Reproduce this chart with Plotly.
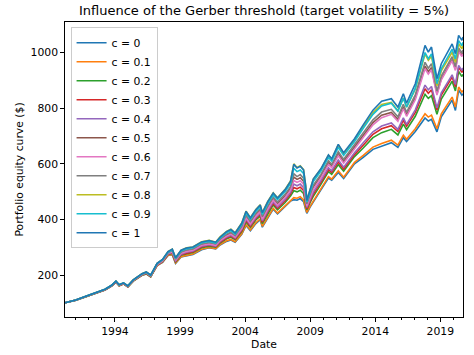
import plotly.graph_objects as go

months = ["1990-02", "1990-12", "1991-08", "1992-05", "1993-03", "1993-09", "1994-01", "1994-04", "1994-08", "1994-12",
          "1995-05", "1996-01", "1996-05", "1996-09", "1997-03", "1997-08", "1998-01", "1998-05", "1998-08", "1999-01",
          "1999-06", "1999-12", "2000-08", "2001-03", "2001-09", "2002-01", "2002-07", "2002-11", "2003-03", "2003-09",
          "2004-01", "2004-05", "2004-10", "2005-02", "2005-04", "2005-09", "2006-02", "2006-06", "2007-01", "2007-06",
          "2007-09", "2007-12", "2008-03", "2008-06", "2008-08", "2008-09", "2008-12", "2009-03", "2009-10", "2010-05",
          "2010-08", "2011-02", "2011-07", "2012-05", "2013-01", "2013-10", "2014-06", "2015-03", "2015-09", "2016-02",
          "2016-05", "2017-01", "2017-10", "2018-01", "2018-04", "2018-09", "2019-01", "2019-06", "2019-11", "2020-02",
          "2020-05", "2020-08", "2020-09"]
dates = [m + "-28" for m in months]

c_0 = [100,109,120,132,146,160,174,161,168,157,178,199,204,193,234,245,270,273,242,265,269,274,291,298,294,308,321,326,318,346,378,359,385,399,372,407,437,420,446,466,471,469,475,464,435,422,444,461,506,549,541,569,547,600,623,652,664,676,659,694,680,716,765,754,760,715,769,799,829,792,865,847,852]
c_01 = [100,109,120,132,146,160,174,161,168,157,178,199,204,193,234,246,271,274,243,266,271,276,293,299,295,310,323,328,320,348,381,362,388,402,375,410,440,423,449,470,478,476,482,470,440,425,447,466,510,554,545,575,552,605,630,660,673,685,667,703,688,726,780,768,775,726,780,810,840,804,876,858,864]
c_02 = [100,109,120,132,147,161,175,162,169,158,179,200,205,194,236,248,274,278,247,271,276,281,298,304,300,315,330,336,327,356,391,371,398,412,385,421,452,434,461,484,503,499,505,493,457,434,460,483,526,572,562,597,573,626,657,694,712,724,704,743,723,771,850,835,845,778,833,865,897,862,932,914,922]
c_03 = [100,109,121,133,147,161,175,162,169,158,180,201,206,195,236,249,275,280,249,273,279,284,301,307,302,318,333,339,330,360,396,375,403,418,390,427,457,440,467,491,515,510,516,504,465,438,465,491,533,579,569,606,581,633,667,706,726,737,716,756,735,785,870,854,866,793,847,880,912,877,947,929,937]
c_04 = [100,109,121,133,147,161,176,163,170,159,180,201,207,196,237,250,276,282,251,275,282,286,304,309,304,321,337,343,333,364,401,380,407,422,395,432,463,445,473,497,527,521,527,514,473,443,471,498,540,586,575,614,588,640,676,715,736,747,724,765,742,794,883,866,878,801,855,888,920,885,954,936,945]
c_05 = [100,110,121,133,148,162,176,163,170,159,181,203,208,197,239,252,279,286,255,280,287,292,309,314,309,326,343,350,339,372,411,389,417,433,405,443,474,456,485,512,552,544,550,537,490,452,483,516,556,604,592,636,609,660,702,748,775,785,760,804,777,837,951,931,946,852,906,941,975,940,1008,990,1000]
c_06 = [100,110,121,133,148,162,176,163,170,159,181,202,208,197,238,251,278,284,253,278,285,289,307,312,307,324,340,347,336,368,406,384,412,428,400,438,469,451,479,505,540,533,539,527,482,448,478,508,549,597,586,629,602,654,695,740,766,778,753,798,771,831,942,923,938,847,902,937,971,936,1004,986,996]
c_07 = [100,110,121,133,148,162,177,164,171,160,182,203,209,198,240,253,280,288,257,283,290,294,312,317,312,329,347,354,342,375,416,393,422,438,410,449,480,462,491,518,564,554,561,548,498,456,489,523,562,611,598,644,616,667,711,758,786,796,769,814,785,848,965,944,960,862,916,951,985,950,1017,999,1010]
c_08 = [100,110,122,134,149,163,178,165,172,161,183,205,211,200,242,256,284,293,262,289,298,301,320,325,318,337,357,365,352,387,430,406,436,453,425,465,496,478,508,538,600,587,593,579,521,468,505,545,581,631,617,668,637,686,734,784,813,821,791,837,804,869,995,972,987,881,934,968,1001,965,1032,1014,1025]
c_09 = [100,110,122,134,149,163,178,165,172,161,182,204,210,199,241,255,282,291,260,286,294,298,316,321,315,333,352,360,347,381,423,400,429,446,418,458,488,471,500,529,584,572,578,565,510,463,498,536,574,623,610,659,630,680,728,778,808,818,789,836,804,871,1000,978,995,888,942,977,1012,977,1043,1025,1037]
c_1 = [100,110,122,134,149,163,178,165,172,161,183,205,211,200,242,256,284,293,262,289,297,301,319,324,318,336,356,364,351,386,429,405,435,452,424,464,495,477,507,537,598,585,591,578,520,468,505,545,582,632,618,670,640,690,740,793,825,834,804,852,818,888,1026,1002,1020,906,960,996,1031,996,1062,1044,1056]

labels = ["c = 0", "c = 0.1", "c = 0.2", "c = 0.3", "c = 0.4", "c = 0.5",
          "c = 0.6", "c = 0.7", "c = 0.8", "c = 0.9", "c = 1"]
series = [c_0, c_01, c_02, c_03, c_04, c_05, c_06, c_07, c_08, c_09, c_1]
colors = ["#1f77b4", "#ff7f0e", "#2ca02c", "#d62728", "#9467bd", "#8c564b",
          "#e377c2", "#7f7f7f", "#bcbd22", "#17becf", "#1f77b4"]

yticks = [200, 400, 600, 800, 1000]
title = "Influence of the Gerber threshold (target volatility = 5%)"

FONT = "DejaVu Sans"
FS = 10.8

fig = go.Figure()
for i, (lab, vals, col) in enumerate(zip(labels, series, colors)):
    fig.add_trace(go.Scatter(x=dates, y=vals, mode="lines", name=lab,
                             line=dict(color=col, width=1.6),
                             legendgroup="g%d" % i))

fig.update_layout(
    template="none",
    width=474, height=355,
    margin=dict(l=65, r=11, t=22, b=38, pad=0),
    paper_bgcolor="white", plot_bgcolor="white",
    font=dict(family=FONT, size=FS, color="black"),
    title=dict(text=title, x=0.5, xref="paper", xanchor="center",
               y=1 - 10 / 355, yref="container", yanchor="middle",
               font=dict(family=FONT, size=13, color="black")),
    showlegend=True,
    legend=dict(x=0.014, y=0.982, xanchor="left", yanchor="top",
                bgcolor="rgba(255,255,255,0.8)", bordercolor="#cccccc", borderwidth=1,
                font=dict(family=FONT, size=FS, color="black"),
                traceorder="grouped", tracegroupgap=0, itemwidth=30),
)
fig.update_xaxes(
    type="date", range=[dates[0], dates[-1]], automargin=False,
    showline=True, linecolor="black", linewidth=1, mirror=True,
    showgrid=False, zeroline=False,
    ticks="outside", ticklen=3.8, tickwidth=0.8, tickcolor="black",
    tick0="1994-01-01", dtick="M60", tickformat="%Y",
    tickfont=dict(family=FONT, size=FS, color="black"),
    minor=dict(ticks="outside", ticklen=2.2, tickwidth=0.6, tickcolor="black",
               dtick="M12", tick0="1991-01-01", showgrid=False),
    title=dict(text="Date", font=dict(family=FONT, size=FS, color="black"), standoff=3),
)
fig.update_yaxes(
    range=[49, 1110], automargin=False,
    showline=True, linecolor="black", linewidth=1, mirror=True,
    showgrid=False, zeroline=False,
    ticks="outside", ticklen=3.8, tickwidth=0.8, tickcolor="black",
    tickmode="array", tickvals=yticks, ticktext=[str(v) for v in yticks],
    tickfont=dict(family=FONT, size=FS, color="black"),
    title=dict(text="Portfolio equity curve ($)", font=dict(family=FONT, size=FS, color="black"), standoff=4),
)

fig.write_html("out.html", config={"displayModeBar": False},
               post_script="document.body.style.margin='0px';document.body.style.padding='0px';")
